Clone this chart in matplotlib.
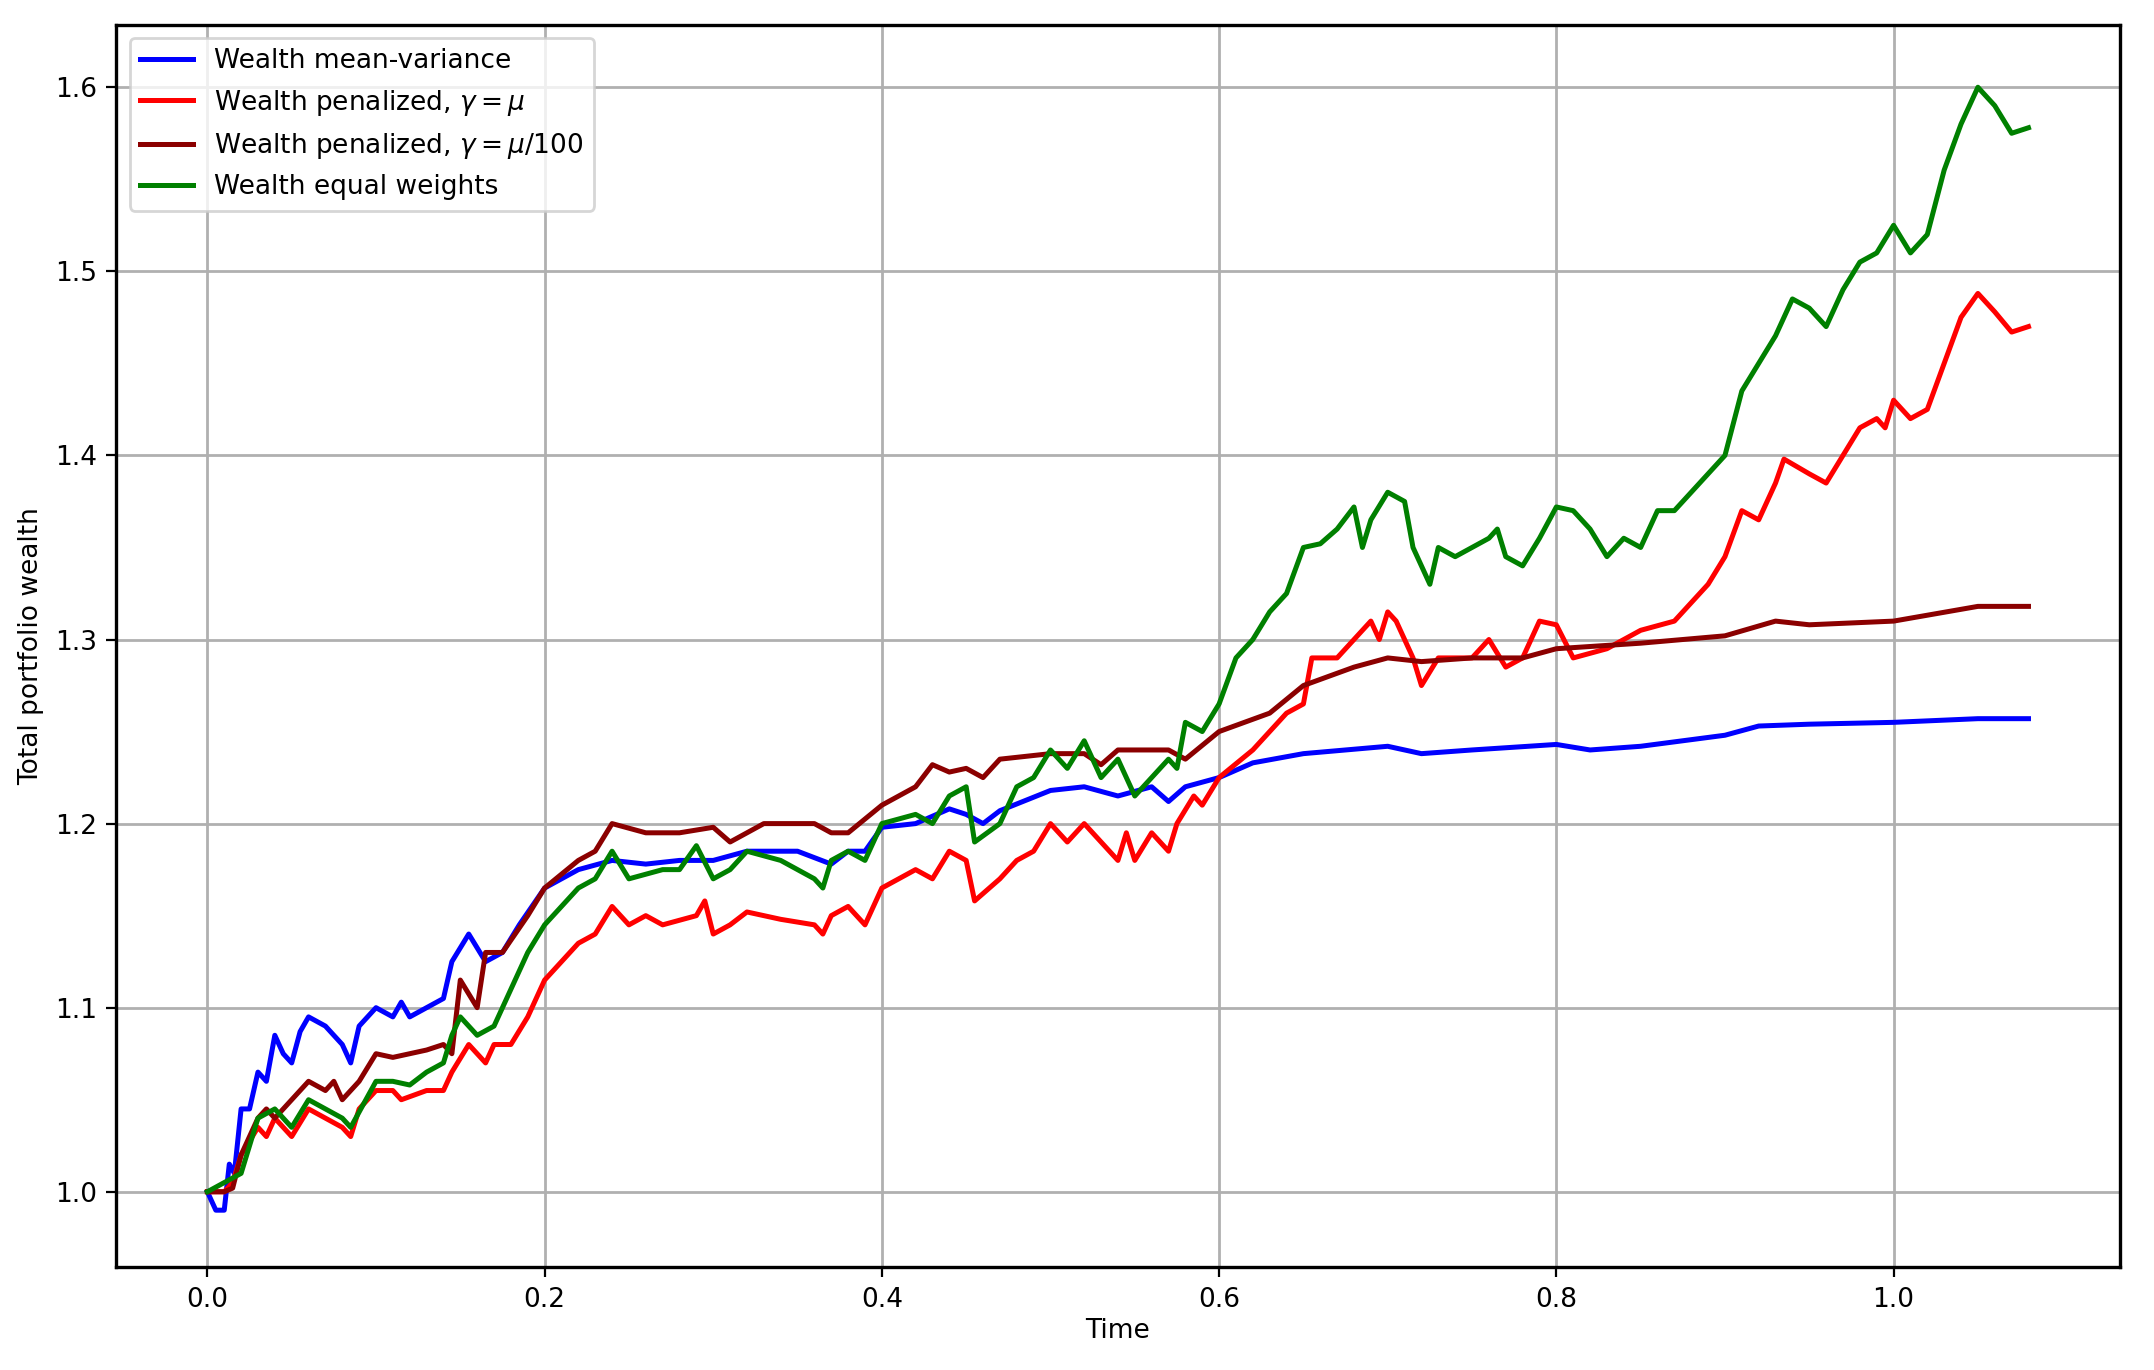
import numpy as np
import matplotlib.pyplot as plt

# data -----------------------------------------------------------------------
t_mv = [0, 0.005, 0.01, 0.013, 0.016, 0.02, 0.025, 0.03, 0.035, 0.04, 0.045, 0.05, 0.055, 0.06, 0.07, 0.08,
        0.085, 0.09, 0.1, 0.11, 0.115, 0.12, 0.13, 0.14, 0.145, 0.155, 0.165, 0.175, 0.185, 0.2, 0.22, 0.24,
        0.26, 0.28, 0.3, 0.32, 0.35, 0.37, 0.38, 0.39, 0.4, 0.42, 0.44, 0.45, 0.46, 0.47, 0.5, 0.52, 0.54,
        0.56, 0.57, 0.58, 0.6, 0.62, 0.65, 0.7, 0.72, 0.75, 0.8, 0.82, 0.85, 0.9, 0.92, 0.95, 1.0, 1.05, 1.08]
w_mv = [1.0, 0.99, 0.99, 1.015, 1.01, 1.045, 1.045, 1.065, 1.06, 1.085, 1.075, 1.07, 1.087, 1.095, 1.09, 1.08,
        1.07, 1.09, 1.1, 1.095, 1.103, 1.095, 1.1, 1.105, 1.125, 1.14, 1.125, 1.13, 1.145, 1.165, 1.175, 1.18,
        1.178, 1.18, 1.18, 1.185, 1.185, 1.178, 1.185, 1.185, 1.198, 1.2, 1.208, 1.205, 1.2, 1.207, 1.218, 1.22, 1.215,
        1.22, 1.212, 1.22, 1.225, 1.233, 1.238, 1.242, 1.238, 1.24, 1.243, 1.24, 1.242, 1.248, 1.253, 1.254, 1.255, 1.257, 1.257]

t_pen = [0, 0.01, 0.015, 0.02, 0.03, 0.035, 0.04, 0.05, 0.06, 0.07, 0.08, 0.085, 0.09, 0.1, 0.11, 0.115, 0.13,
         0.14, 0.145, 0.155, 0.165, 0.17, 0.18, 0.19, 0.2, 0.21, 0.22, 0.23, 0.24, 0.25, 0.26, 0.27, 0.29, 0.295,
         0.3, 0.31, 0.32, 0.33, 0.34, 0.36, 0.365, 0.37, 0.38, 0.39, 0.4, 0.42, 0.43, 0.44, 0.45, 0.455, 0.47, 0.48,
         0.49, 0.5, 0.51, 0.52, 0.53, 0.54, 0.545, 0.55, 0.56, 0.57, 0.575, 0.585, 0.59, 0.6, 0.62, 0.64, 0.65, 0.655,
         0.67, 0.68, 0.69, 0.695, 0.7, 0.705, 0.715, 0.72, 0.73, 0.75, 0.76, 0.77, 0.78, 0.79, 0.8, 0.81, 0.83, 0.84,
         0.85, 0.87, 0.88, 0.89, 0.9, 0.91, 0.92, 0.93, 0.935, 0.95, 0.96, 0.97, 0.98, 0.99, 0.995, 1.0, 1.01, 1.02,
         1.03, 1.04, 1.05, 1.06, 1.07, 1.08]
w_pen = [1.0, 1.0, 1.005, 1.02, 1.035, 1.03, 1.04, 1.03, 1.045, 1.04, 1.035, 1.03, 1.045, 1.055, 1.055, 1.05, 1.055,
         1.055, 1.065, 1.08, 1.07, 1.08, 1.08, 1.095, 1.115, 1.125, 1.135, 1.14, 1.155, 1.145, 1.15, 1.145, 1.15, 1.158,
         1.14, 1.145, 1.152, 1.15, 1.148, 1.145, 1.14, 1.15, 1.155, 1.145, 1.165, 1.175, 1.17, 1.185, 1.18, 1.158, 1.17, 1.18,
         1.185, 1.2, 1.19, 1.2, 1.19, 1.18, 1.195, 1.18, 1.195, 1.185, 1.2, 1.215, 1.21, 1.225, 1.24, 1.26, 1.265, 1.29,
         1.29, 1.3, 1.31, 1.3, 1.315, 1.31, 1.29, 1.275, 1.29, 1.29, 1.3, 1.285, 1.29, 1.31, 1.308, 1.29, 1.295, 1.3,
         1.305, 1.31, 1.32, 1.33, 1.345, 1.37, 1.365, 1.385, 1.398, 1.39, 1.385, 1.4, 1.415, 1.42, 1.415, 1.43, 1.42, 1.425,
         1.45, 1.475, 1.488, 1.478, 1.467, 1.47]

t_pen100 = [0, 0.01, 0.015, 0.02, 0.03, 0.035, 0.04, 0.05, 0.06, 0.07, 0.075, 0.08, 0.09, 0.1, 0.11, 0.13, 0.14,
            0.145, 0.15, 0.16, 0.165, 0.175, 0.19, 0.2, 0.22, 0.23, 0.24, 0.26, 0.28, 0.3, 0.31, 0.33, 0.35, 0.36,
            0.37, 0.38, 0.4, 0.42, 0.43, 0.44, 0.45, 0.46, 0.47, 0.5, 0.52, 0.53, 0.54, 0.57, 0.58, 0.6, 0.63, 0.65,
            0.68, 0.7, 0.72, 0.75, 0.78, 0.8, 0.85, 0.9, 0.93, 0.95, 1.0, 1.05, 1.08]
w_pen100 = [1.0, 1.0, 1.002, 1.02, 1.04, 1.045, 1.04, 1.05, 1.06, 1.055, 1.06, 1.05, 1.06, 1.075, 1.073, 1.077, 1.08,
            1.075, 1.115, 1.1, 1.13, 1.13, 1.15, 1.165, 1.18, 1.185, 1.2, 1.195, 1.195, 1.198, 1.19, 1.2, 1.2, 1.2,
            1.195, 1.195, 1.21, 1.22, 1.232, 1.228, 1.23, 1.225, 1.235, 1.238, 1.238, 1.232, 1.24, 1.24, 1.235, 1.25, 1.26, 1.275,
            1.285, 1.29, 1.288, 1.29, 1.29, 1.295, 1.298, 1.302, 1.31, 1.308, 1.31, 1.318, 1.318]

t_eq = [0, 0.01, 0.02, 0.025, 0.03, 0.04, 0.05, 0.06, 0.07, 0.08, 0.085, 0.1, 0.11, 0.12, 0.13, 0.14, 0.145, 0.15,
        0.16, 0.17, 0.18, 0.19, 0.2, 0.21, 0.22, 0.23, 0.24, 0.25, 0.27, 0.28, 0.29, 0.3, 0.31, 0.32, 0.34, 0.35, 0.36,
        0.365, 0.37, 0.38, 0.39, 0.4, 0.42, 0.43, 0.44, 0.45, 0.455, 0.47, 0.48, 0.49, 0.5, 0.51, 0.52, 0.53, 0.54,
        0.55, 0.56, 0.57, 0.575, 0.58, 0.59, 0.6, 0.61, 0.62, 0.63, 0.64, 0.65, 0.66, 0.67, 0.68, 0.685, 0.69, 0.7,
        0.71, 0.715, 0.725, 0.73, 0.74, 0.76, 0.765, 0.77, 0.78, 0.79, 0.8, 0.81, 0.82, 0.83, 0.84, 0.85, 0.86, 0.87,
        0.88, 0.89, 0.9, 0.91, 0.92, 0.93, 0.94, 0.95, 0.96, 0.97, 0.98, 0.99, 1.0, 1.01, 1.02, 1.03, 1.04, 1.05, 1.06,
        1.07, 1.08]
w_eq = [1.0, 1.005, 1.01, 1.025, 1.04, 1.045, 1.035, 1.05, 1.045, 1.04, 1.035, 1.06, 1.06, 1.058, 1.065, 1.07, 1.085, 1.095,
        1.085, 1.09, 1.11, 1.13, 1.145, 1.155, 1.165, 1.17, 1.185, 1.17, 1.175, 1.175, 1.188, 1.17, 1.175, 1.185, 1.18, 1.175, 1.17,
        1.165, 1.18, 1.185, 1.18, 1.2, 1.205, 1.2, 1.215, 1.22, 1.19, 1.2, 1.22, 1.225, 1.24, 1.23, 1.245, 1.225, 1.235,
        1.215, 1.225, 1.235, 1.23, 1.255, 1.25, 1.265, 1.29, 1.3, 1.315, 1.325, 1.35, 1.352, 1.36, 1.372, 1.35, 1.365, 1.38,
        1.375, 1.35, 1.33, 1.35, 1.345, 1.355, 1.36, 1.345, 1.34, 1.355, 1.372, 1.37, 1.36, 1.345, 1.355, 1.35, 1.37, 1.37,
        1.38, 1.39, 1.4, 1.435, 1.45, 1.465, 1.485, 1.48, 1.47, 1.49, 1.505, 1.51, 1.525, 1.51, 1.52, 1.555, 1.58, 1.6, 1.59,
        1.575, 1.578]

# plot ------------------------------------------------------------------------
plt.rcParams['font.size'] = 9.5
fig = plt.figure(figsize=(10.77, 6.85), dpi=200)
ax = fig.add_axes([0.054, 0.075, 0.93, 0.907])
ax.plot(t_mv, w_mv, color='blue', lw=1.8, label='Wealth mean-variance')
ax.plot(t_pen, w_pen, color='red', lw=1.8, label=r'Wealth penalized, $\gamma = \mu$')
ax.plot(t_pen100, w_pen100, color='darkred', lw=1.8, label=r'Wealth penalized, $\gamma = \mu/100$')
ax.plot(t_eq, w_eq, color='green', lw=1.8, label='Wealth equal weights')

ax.set_xlim(-0.054, 1.134)
ax.set_ylim(0.959, 1.634)
ax.set_xticks([0.0, 0.2, 0.4, 0.6, 0.8, 1.0])
ax.set_yticks([1.0, 1.1, 1.2, 1.3, 1.4, 1.5, 1.6])
ax.grid(True, color='#b0b0b0', lw=1)
ax.set_xlabel('Time', labelpad=2)
ax.set_ylabel('Total portfolio wealth')
for s in ax.spines.values():
    s.set_linewidth(1.2)
ax.legend(loc='upper left', fontsize=9.5)

fig.savefig('out.png', dpi=200)
